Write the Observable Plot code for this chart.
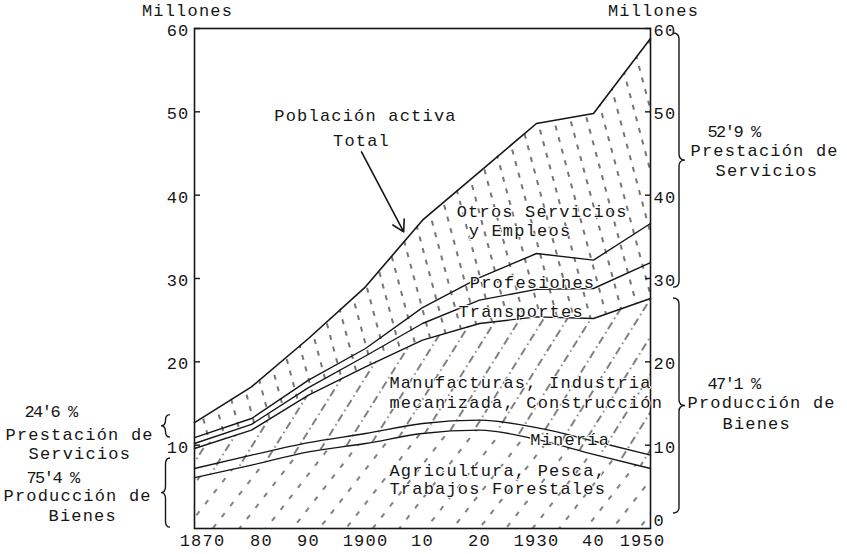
<!DOCTYPE html>
<html><head><meta charset="utf-8">
<script src="https://cdn.jsdelivr.net/npm/d3@7"></script>
<script src="https://cdn.jsdelivr.net/npm/@observablehq/plot@0.6"></script>
<style>
body{margin:0;background:#fff;}
#chart svg{display:block}
#chart svg text{letter-spacing:1.2px}
#chart svg g.pct text{letter-spacing:-1.5px}
</style></head><body><div id="chart"></div>
<script>
// Años (eje X)
const years = [1870, 1880, 1890, 1900, 1910, 1920, 1930, 1940, 1950];
// Límites superiores acumulados de cada franja (millones)
const limAgricultura  = [6.1, 7.6, 9.2, 10.2, 11.4, 11.8, 10.7, 8.9, 7.2];
const limMineria      = [7.2, 8.8, 10.3, 11.4, 12.6, 13.0, 12.1, 10.5, 8.8];
const limManufacturas = [9.6, 11.8, 16.0, 19.4, 22.6, 24.6, 25.4, 25.2, 27.6];
const limTransportes  = [10.2, 12.5, 16.9, 20.7, 24.6, 27.4, 28.7, 28.8, 31.9];
const limProfesiones  = [10.9, 13.2, 17.8, 21.6, 26.5, 30.1, 33.0, 32.2, 36.6];
const total           = [12.7, 17.0, 22.8, 29.0, 37.0, 42.8, 48.6, 49.8, 58.8];

// Ticks
const yTicksLeft = [10, 20, 30, 40, 50, 60];
const yTicksRight = [0, 10, 20, 30, 40, 50, 60];
const xTickLabels = ["1870", "80", "90", "1900", "10", "20", "1930", "40", "1950"];

// Llaves laterales (extensión en millones)
const llavesIzq = [{desde: 10.9, hasta: 13.6}, {desde: 0.1, hasta: 8.4}];
const llavesDer = [{desde: 28.9, hasta: 59.4}, {desde: 1.8, hasta: 27.6}];

// Etiquetas laterales
const ladoIzq = ["24'6 %", "Prestación de", "Servicios", "75'4 %", "Producción de", "Bienes"];
const ladoIzqY = [14.0, 11.3, 9.0, 6.1, 3.9, 1.6];
const ladoDer = ["52'9 %", "Prestación de", "Servicios", "47'1 %", "Producción de", "Bienes"];
const ladoDerY = [47.6, 45.3, 42.9, 17.4, 15.1, 12.6];

// Textos dentro del gráfico
const textosCentro = [
  {t: "Población activa", x: 1900, y: 49.6}, {t: "Total", x: 1899.3, y: 46.6}
];
const textosInicio = [
  {t: "Otros Servicios", x: 1916.0, y: 38.0},
  {t: "y Empleos", x: 1918.1, y: 35.8},
  {t: "Profesiones", x: 1918.3, y: 29.5},
  {t: "Transportes", x: 1916.3, y: 26.0},
  {t: "Manufacturas, Industria", x: 1904.2, y: 17.5},
  {t: "mecanizada, Construcción", x: 1904.2, y: 15.1},
  {t: "Minería", x: 1928.9, y: 10.7},
  {t: "Agricultura, Pesca,", x: 1904.2, y: 7.0},
  {t: "Trabajos Forestales", x: 1904.2, y: 4.8}
];
const flecha = [{x1: 1899.3, y1: 45.2, x2: 1906.7, y2: 35.6}];

const rows = years.map((year, i) => ({
  year, agr: limAgricultura[i], min: limMineria[i], man: limManufacturas[i],
  tra: limTransportes[i], pro: limProfesiones[i], tot: total[i]
}));

const ink = "#161616";
const font = "'Liberation Mono', 'DejaVu Sans Mono', monospace";

// Etiqueta lateral (desplazamiento en píxeles respecto al borde del marco)
function lateral(texts, ys, i, side, dx, anchor) {
  const pct = texts[i].includes("%");
  return Plot.text([texts[i]], {
    frameAnchor: side, y: [ys[i]], text: (d) => d, dx, textAnchor: anchor,
    fontSize: 17, className: pct ? "pct" : undefined
  });
}

const xMid = years.slice(2, 8);
const fmtX = (d) => xTickLabels[years.indexOf(d)];

const plot = Plot.plot({
  width: 847, height: 554,
  marginLeft: 194, marginRight: 197, marginTop: 28, marginBottom: 26,
  style: {fontFamily: font, fontSize: "17px", color: ink, background: "#fff"},
  x: {domain: [1870, 1950]},
  y: {domain: [0, 60]},
  marks: [
    // Rellenos rayados
    Plot.areaY(rows, {x: "year", y1: 0, y2: "tot", fill: "url(#h-serv)"}),
    Plot.areaY(rows, {x: "year", y1: 0, y2: "man", fill: "#fff"}),
    Plot.areaY(rows, {x: "year", y1: 0, y2: "man", fill: "url(#h-manu)"}),
    Plot.areaY(rows, {x: "year", y1: 0, y2: "agr", fill: "#fff", curve: "monotone-x"}),
    Plot.areaY(rows, {x: "year", y1: 0, y2: "agr", fill: "url(#h-agri)", curve: "monotone-x"}),
    // Líneas
    Plot.lineY(rows, {x: "year", y: "tot", stroke: ink, strokeWidth: 1.6}),
    Plot.lineY(rows, {x: "year", y: "pro", stroke: ink, strokeWidth: 1.4}),
    Plot.lineY(rows, {x: "year", y: "tra", stroke: ink, strokeWidth: 1.4}),
    Plot.lineY(rows, {x: "year", y: "man", stroke: ink, strokeWidth: 1.4}),
    Plot.lineY(rows, {x: "year", y: "min", stroke: ink, strokeWidth: 1.3, curve: "monotone-x"}),
    Plot.lineY(rows, {x: "year", y: "agr", stroke: ink, strokeWidth: 1.3, curve: "monotone-x"}),
    Plot.frame({stroke: ink, strokeWidth: 1.6}),
    // Ejes
    Plot.axisY(yTicksLeft, {anchor: "left", tickSize: 0, tickPadding: 5, dy: 2, label: null, fontSize: 17}),
    Plot.axisY(yTicksLeft, {anchor: "left", tickSize: 6, dx: 6, text: null, label: null, stroke: ink, strokeWidth: 1.4}),
    Plot.axisY(yTicksRight.slice(1), {anchor: "right", tickSize: 0, tickPadding: 3, dy: 2, label: null, fontSize: 17}),
    Plot.axisY(yTicksRight.slice(0, 1), {anchor: "right", tickSize: 0, tickPadding: 3, dy: -8, label: null, fontSize: 17}),
    Plot.axisY(yTicksRight.slice(1), {anchor: "right", tickSize: 6, dx: -6, text: null, label: null, stroke: ink, strokeWidth: 1.4}),
    Plot.axisX(xMid, {anchor: "bottom", tickSize: 0, tickPadding: 5, label: null, fontSize: 17, tickFormat: fmtX}),
    Plot.axisX([1870], {anchor: "bottom", tickSize: 0, tickPadding: 5, dx: 8, label: null, fontSize: 17, tickFormat: fmtX}),
    Plot.axisX([1880], {anchor: "bottom", tickSize: 0, tickPadding: 5, dx: 10, label: null, fontSize: 17, tickFormat: fmtX}),
    Plot.axisX([1950], {anchor: "bottom", tickSize: 0, tickPadding: 5, dx: -8, label: null, fontSize: 17, tickFormat: fmtX}),
    // Títulos de eje
    Plot.text(["Millones"], {frameAnchor: "top-left", dx: -7, dy: -18, lineAnchor: "middle", textAnchor: "middle", fontSize: 17}),
    Plot.text(["Millones"], {frameAnchor: "top-right", dx: 3, dy: -18, lineAnchor: "middle", textAnchor: "middle", fontSize: 17}),
    // Anotaciones
    Plot.text(textosCentro, {x: "x", y: "y", text: "t", textAnchor: "middle", fontSize: 17}),
    Plot.text(textosInicio, {x: "x", y: "y", text: "t", textAnchor: "start", fontSize: 17,
      stroke: "#fff", strokeWidth: 2, fill: ink}),
    Plot.arrow(flecha, {x1: "x1", y1: "y1", x2: "x2", y2: "y2", stroke: ink, strokeWidth: 1.6, headLength: 12}),
    // Etiquetas laterales izquierdas
    lateral(ladoIzq, ladoIzqY, 0, "left", -144, "middle"),
    lateral(ladoIzq, ladoIzqY, 1, "left", -189, "start"),
    lateral(ladoIzq, ladoIzqY, 2, "left", -166, "start"),
    lateral(ladoIzq, ladoIzqY, 3, "left", -142, "middle"),
    lateral(ladoIzq, ladoIzqY, 4, "left", -191, "start"),
    lateral(ladoIzq, ladoIzqY, 5, "left", -146, "start"),
    // Etiquetas laterales derechas
    lateral(ladoDer, ladoDerY, 0, "right", 83, "middle"),
    lateral(ladoDer, ladoDerY, 1, "right", 40, "start"),
    lateral(ladoDer, ladoDerY, 2, "right", 65, "start"),
    lateral(ladoDer, ladoDerY, 3, "right", 83, "middle"),
    lateral(ladoDer, ladoDerY, 4, "right", 37, "start"),
    lateral(ladoDer, ladoDerY, 5, "right", 72, "start")
  ]
});

// Patrones de rayado
d3.select(plot).insert("defs", ":first-child").html(`
  <pattern id="h-serv" patternUnits="userSpaceOnUse" width="16" height="12" patternTransform="rotate(-15)">
    <line x1="8" y1="1" x2="8" y2="6" stroke="#2a2a2a" stroke-width="1.3"/>
  </pattern>
  <pattern id="h-manu" patternUnits="userSpaceOnUse" width="20" height="17" patternTransform="rotate(32)">
    <line x1="10" y1="0" x2="10" y2="8" stroke="#2a2a2a" stroke-width="1.2"/>
    <line x1="10" y1="11.5" x2="10" y2="13" stroke="#2a2a2a" stroke-width="1.2"/>
  </pattern>
  <pattern id="h-agri" patternUnits="userSpaceOnUse" width="21" height="14" patternTransform="rotate(38)">
    <line x1="10" y1="0" x2="10" y2="5" stroke="#2a2a2a" stroke-width="1.2"/>
  </pattern>`);

// Llaves
const ys = plot.scale("y"), xs = plot.scale("x");
const yPix = d3.scaleLinear(ys.domain, ys.range);
const [xL, xR] = xs.range;
function bracePath(x, yTop, yBot, s, w) {
  const m = (yTop + yBot) / 2, r = Math.min(6, (yBot - yTop) / 4), h = w / 2;
  const xv = x + s * h, xt = x + s * w;
  return `M${x},${yTop} Q${xv},${yTop} ${xv},${yTop + r} L${xv},${m - r} Q${xv},${m} ${xt},${m} Q${xv},${m} ${xv},${m + r} L${xv},${yBot - r} Q${xv},${yBot} ${x},${yBot}`;
}
const g = d3.select(plot).append("g").attr("fill", "none").attr("stroke", ink).attr("stroke-width", 1.4);
llavesIzq.forEach(b => g.append("path").attr("d", bracePath(xL - 24, yPix(b.hasta), yPix(b.desde), -1, 9)));
llavesDer.forEach(b => g.append("path").attr("d", bracePath(xR + 23, yPix(b.hasta), yPix(b.desde), 1, 12)));

document.getElementById("chart").appendChild(plot);
</script></body></html>
